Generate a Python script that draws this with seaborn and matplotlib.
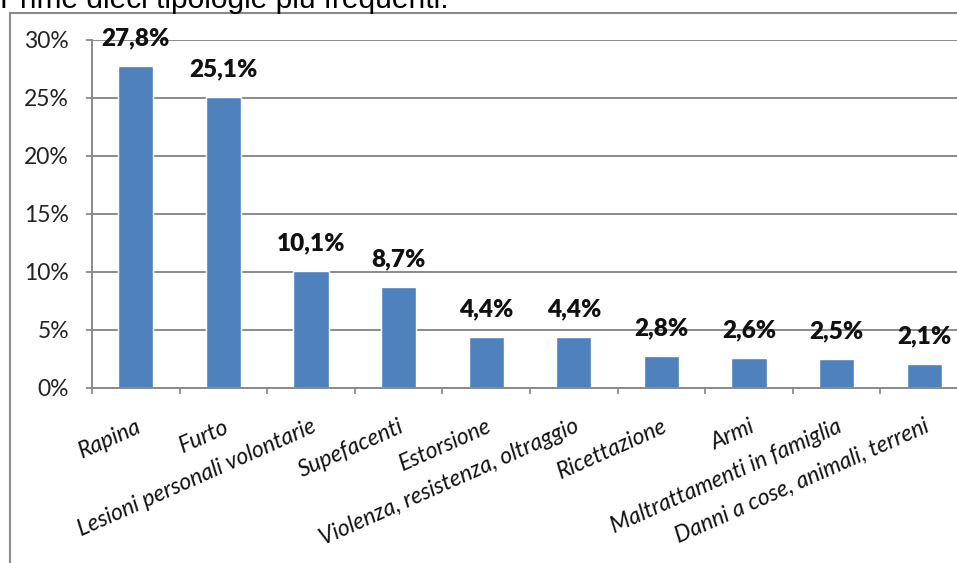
import matplotlib
matplotlib.use("Agg")
import matplotlib.pyplot as plt
import seaborn as sns
import pandas as pd
from matplotlib.ticker import FuncFormatter, FixedLocator
from matplotlib.patches import Rectangle

# Data
categories = [
    "Rapina",
    "Furto",
    "Lesioni personali volontarie",
    "Supefacenti",
    "Estorsione",
    "Violenza, resistenza, oltraggio",
    "Ricettazione",
    "Armi",
    "Maltrattamenti in famiglia",
    "Danni a cose, animali, terreni",
]
shares = [27.8, 25.1, 10.1, 8.7, 4.4, 4.4, 2.8, 2.6, 2.5, 2.1]
y_ticks = [0, 5, 10, 15, 20, 25, 30]
title = "Prime dieci tipologie più frequenti."

BAR_BLUE = "#4F81BD"
GRID_GRAY = "#8a8a8a"

sns.set_theme(style="white")
plt.rcParams['font.family'] = ['Lato', 'DejaVu Sans']

fig = plt.figure(figsize=(9.57, 5.63), dpi=100)
# plot area runs past the right edge, as in the cropped reference
ax = fig.add_axes([92 / 957, 175 / 563, 876 / 957, 348 / 563])

df = pd.DataFrame({"Tipologia": categories, "Quota": shares})
sns.barplot(data=df, x="Tipologia", y="Quota", color=BAR_BLUE,
            saturation=1, width=0.4, ax=ax)

# value labels above bars
labels = [f"{v:.1f}%".replace(".", ",") for v in shares]
ax.bar_label(ax.containers[0], labels=labels, padding=12,
             fontsize=17.5, fontweight="heavy", color="#111111")

# axes styling
ax.set_xlim(-0.5, len(categories) - 0.5)
ax.set_ylim(y_ticks[0], y_ticks[-1])
ax.set_yticks(y_ticks)
ax.yaxis.set_major_formatter(FuncFormatter(lambda v, _: f"{v:.0f}%"))
ax.set_xlabel("")
ax.set_ylabel("")

ax.yaxis.grid(True, color=GRID_GRAY, lw=1.4)
ax.set_axisbelow(True)
for side in ["top", "right"]:
    ax.spines[side].set_visible(False)
for side in ["left", "bottom"]:
    ax.spines[side].set_color(GRID_GRAY)
    ax.spines[side].set_linewidth(1.4)

ax.tick_params(axis="y", which="major", direction="out", length=4.5,
               width=1.3, color=GRID_GRAY, pad=12, labelsize=16.5,
               labelcolor="#222222", left=True)

ax.set_xticks(range(len(categories)))
ax.set_xticklabels(categories, rotation=24, ha="right",
                   rotation_mode="anchor", fontstyle="italic")
ax.tick_params(axis="x", which="major", length=0, pad=20,
               labelsize=16.5, labelcolor="#111111")
ax.xaxis.set_minor_locator(FixedLocator([i - 0.5 for i in range(len(categories) + 1)]))
ax.tick_params(axis="x", which="minor", direction="out", length=4.5,
               width=1.3, color=GRID_GRAY, bottom=True)

# outer chart frame (cropped on right and bottom)
fig.patches.append(Rectangle((10 / 957, -0.05), 1.2, (563 - 13) / 563 + 0.05,
                             transform=fig.transFigure, fill=False,
                             ec=GRID_GRAY, lw=1.5, figure=fig))

# title, mostly cut off by the top edge
fig.text(0.0, 0.986, title, family="Liberation Sans", fontsize=21.5,
         ha="left", va="baseline", color="#000000")

fig.savefig("out.png", dpi=100)
